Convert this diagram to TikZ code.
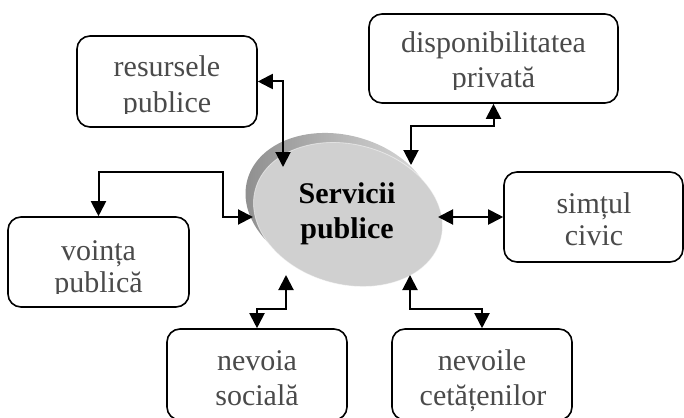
\documentclass[tikz,border=0pt]{standalone}
\usepackage{fontspec}
\setmainfont{Liberation Serif}
\usetikzlibrary{arrows.meta,calc}
\definecolor{txt}{HTML}{4A4A4A}
\definecolor{face}{HTML}{D0D0D0}
\begin{document}
\begin{tikzpicture}[x=1pt,y=-1pt,
  box/.style={draw=black,line width=1.6pt,rounded corners=13pt,inner sep=0pt,minimum width=180pt,minimum height=91pt},
  lbl/.style={anchor=base,font=\fontsize{30}{35}\selectfont,text=txt,inner sep=0pt},
  ttl/.style={anchor=base,font=\bfseries\fontsize{30}{35}\selectfont,text=black,inner sep=0pt},
  conn/.style={line width=2pt,{Triangle[length=15pt,width=15pt]}-{Triangle[length=15pt,width=15pt]}}]
\useasboundingbox (0,0) rectangle (684,417);

% central ellipse (3D look)
\shade[left color=black!45,right color=black!12] (340,205) ellipse[x radius=96,y radius=70,rotate=-15];
\fill[face] (348,214.5) ellipse[x radius=96,y radius=70,rotate=-15];
\draw[white,opacity=0.5,line width=0.8pt] (348,214.5) ellipse[x radius=96,y radius=70,rotate=-15];
\node[ttl] (srv1) at (347,203) {Servicii};
\node[ttl] (srv2) at (347,238) {publice};

% boxes
\node[box] (res) at (167,81.5) {};
\node[box,minimum width=249pt,minimum height=89pt] (disp) at (493.5,58.5) {};
\node[box,minimum width=179pt,minimum height=90pt] (sim) at (593.5,217) {};
\node[box,minimum width=181pt,minimum height=90pt] (vol) at (98.5,262) {};
\node[box] (nev) at (257,374.5) {};
\node[box] (cet) at (482,374.5) {};

% texts (clipped inside boxes)
\begin{scope}
\clip (res.north west) rectangle ($(res.south east)+(0,-14)$);
\node[lbl] (res1) at (167,77) {resursele};
\node[lbl] (res2) at (167,112) {publice};
\end{scope}
\begin{scope}
\clip (disp.north west) rectangle ($(disp.south east)+(0,-14)$);
\node[lbl] (disp1) at (493.5,53) {disponibilitatea};
\node[lbl] (disp2) at (493.5,88) {privată};
\end{scope}
\begin{scope}
\clip (sim.north west) rectangle ($(sim.south east)+(0,-14)$);
\node[lbl] (sim1) at (594,213) {simțul};
\node[lbl] (sim2) at (594,245) {civic};
\end{scope}
\begin{scope}
\clip (vol.north west) rectangle ($(vol.south east)+(0,-14)$);
\node[lbl] (vol1) at (98.5,260) {voința};
\node[lbl] (vol2) at (98.5,292) {publică};
\end{scope}
\node[lbl] (nev1) at (257,370) {nevoia};
\node[lbl] (nev2) at (257,405) {socială};
\node[lbl] (cet1) at (482,370) {nevoile};
\node[lbl] (cet2) at (483,405) {cetățenilor};

% connector points
\coordinate (e1) at (283,167);
\coordinate (e2) at (411,165);
\coordinate (j2) at (411,126);
\coordinate (e3) at (438,217);
\coordinate (j4) at (223,172);
\coordinate (e4) at (253,217);
\coordinate (j5) at (286,309);
\coordinate (e5) at (286,275);
\coordinate (e6) at (410,275);
\coordinate (j6) at (410,309);

% connectors
\draw[conn] (res.east) -| (e1);
\draw[conn] (e2) -- (j2) -| (disp.south);
\draw[conn] (e3) -- (sim.west);
\draw[conn] (vol.north) |- (j4) |- (e4);
\draw[conn] (nev.north) |- (j5) -- (e5);
\draw[conn] (e6) -- (j6) -| (cet.north);
\end{tikzpicture}
\end{document}
